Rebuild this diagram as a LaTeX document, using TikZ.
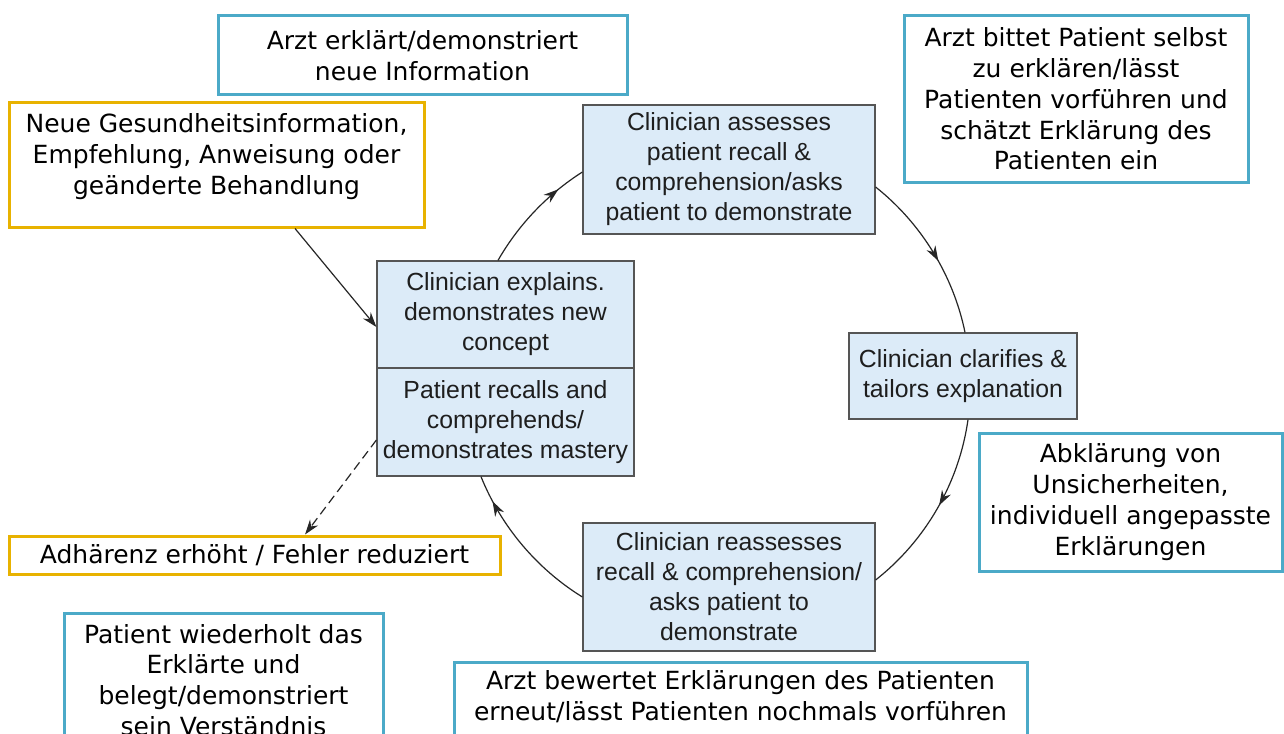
\documentclass[tikz,border=0pt]{standalone}
\usepackage{fontspec}
\setmainfont{DejaVu Sans}
\newfontfamily\arialf{Liberation Sans}
\usetikzlibrary{arrows.meta,decorations.markings,calc}
\definecolor{boxblue}{RGB}{75,170,200}
\definecolor{gold}{RGB}{232,178,0}
\definecolor{lightblue}{RGB}{220,235,248}
\definecolor{edgegray}{RGB}{85,85,85}
\definecolor{etext}{RGB}{30,30,30}
\newcommand{\gfont}{\fontsize{25}{30.8}\selectfont}
\newcommand{\efont}{\arialf\fontsize{24.8}{30}\selectfont}
\tikzset{
  gbox/.style={draw=boxblue, line width=3pt, fill=white, align=center, font=\gfont, inner sep=0pt},
  ybox/.style={draw=gold, line width=3pt, fill=white, align=center, font=\gfont, inner sep=0pt},
  cbox/.style={draw=edgegray, line width=1.2pt, fill=lightblue, align=center, font=\efont, text=etext, inner sep=0pt},
  plain/.style={align=center, font=\gfont, inner sep=0pt},
  tip/.style={-{Stealth[length=15pt,width=10pt]}},
  conn/.style={draw=black!85, line width=1.2pt},
  midarrow/.style={postaction={decorate}, decoration={markings, mark=at position #1 with {\arrow{Stealth[length=15pt,width=10pt]}}}}
}
\begin{document}
\begin{tikzpicture}[x=1pt,y=1pt]
\useasboundingbox (0,0) rectangle (1284,-733);
\clip (0,0) rectangle (1284,-733);
\fill[white] (0,0) rectangle (1284,-733);

% German annotation boxes
\node[gbox, minimum width=409, minimum height=79] (g1) at (422.5,-55.5) {Arzt erklärt/demonstriert\\neue Information};
\node[gbox, minimum width=344, minimum height=166] (g2) at (1076,-99) {Arzt bittet Patient selbst\\zu erklären/lässt\\Patienten vorführen und\\schätzt Erklärung des\\Patienten ein};
\node[gbox, minimum width=303, minimum height=138] (g3) at (1130.5,-502) {Abklärung von\\Unsicherheiten,\\individuell angepasste\\Erklärungen};
\node[gbox, minimum width=573, minimum height=130] (g4box) at (740.5,-727) {};
\node[plain] (g4) at (740.5,-697) {Arzt bewertet Erklärungen des Patienten\\erneut/lässt Patienten nochmals vorführen};
\node[gbox, minimum width=319, minimum height=180] (g5box) at (223.5,-703) {};
\node[plain] (g5) at (223.5,-680) {Patient wiederholt das\\Erklärte und\\belegt/demonstriert\\sein Verständnis};

% yellow boxes
\node[ybox, minimum width=415, minimum height=124] (y1box) at (216.5,-165) {};
\node[plain] (y1) at (216.5,-156.5) {Neue Gesundheitsinformation,\\Empfehlung, Anweisung oder\\geänderte Behandlung};
\node[ybox, minimum width=491, minimum height=38] (y2) at (254.5,-555) {Adhärenz erhöht / Fehler reduziert};

% cycle boxes
\node[cbox, minimum width=292, minimum height=129] (as) at (729,-169.5) {Clinician assesses\\patient recall \&\\comprehension/asks\\patient to demonstrate};
\node[cbox, minimum width=257, minimum height=107] (ce1) at (505.5,-314.5) {Clinician explains.\\demonstrates new\\concept};
\node[cbox, minimum width=257, minimum height=108] (ce2) at (505.5,-422) {Patient recalls and\\comprehends/\\demonstrates mastery};
\node[cbox, minimum width=228, minimum height=86] (cl) at (963,-376) {Clinician clarifies \&\\tailors explanation};
\node[cbox, minimum width=292, minimum height=128] (re) at (729,-587) {Clinician reassesses\\recall \& comprehension/\\asks patient to\\demonstrate};

% cycle connectors (arcs of one circle)
\draw[conn, midarrow=0.76] ([xshift=-7.5pt]ce1.north) to[bend left=13.9, looseness=0.86] ([yshift=-2.5pt]as.west);
\draw[conn, midarrow=0.56] ([yshift=-17.5pt]as.east) to[bend left=20, looseness=0.87] ([xshift=2pt]cl.north);
\draw[conn, midarrow=0.48] ([xshift=5pt]cl.south) to[bend left=21.9, looseness=0.88] ([yshift=7pt]re.east);
\draw[conn, midarrow=0.83] ([yshift=-10pt]re.west) to[bend left=18.2, looseness=0.87] ([xshift=-24.5pt]ce2.south);

% input / output arrows
\draw[conn, tip] ([xshift=78.5pt]y1box.south) -- ([yshift=-12.5pt]ce1.west);
\draw[conn, tip, dashed, dash pattern=on 9pt off 5pt] ([yshift=-18pt]ce2.west) -- ([xshift=50.5pt]y2.north);
\end{tikzpicture}
\end{document}
